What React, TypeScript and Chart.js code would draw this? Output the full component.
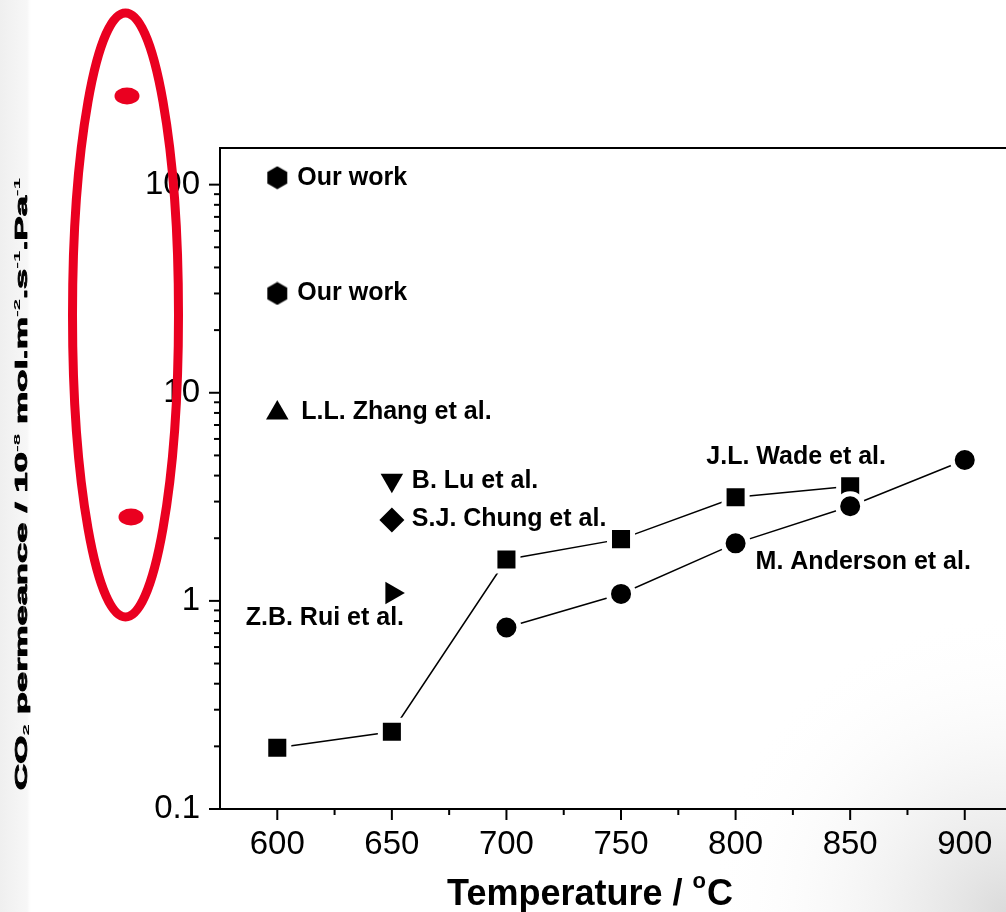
import React, { useEffect, useRef } from "react";
import { Chart, registerables } from "chart.js";

Chart.register(...registerables);

// ---- Data ----
const wadeX = [600, 650, 700, 750, 800, 850];
const wadeY = [0.197, 0.235, 1.58, 1.98, 3.15, 3.55];
const andersonX = [700, 750, 800, 850, 900];
const andersonY = [0.745, 1.08, 1.89, 2.85, 4.75];
const ourWorkX = [600, 600];
const ourWorkY = [108, 30];
const zhangX = [600];
const zhangY = [8.0];
const luX = [650];
const luY = [3.8];
const chungX = [650];
const chungY = [2.45];
const ruiX = [650];
const ruiY = [1.09];

const xMajorTicks = [600, 650, 700, 750, 800, 850, 900];
const xMinorTicks = [625, 675, 725, 775, 825, 875];
const yMajorTicks = [0.1, 1, 10, 100];
const yMinorTicks = [
  0.2, 0.3, 0.4, 0.5, 0.6, 0.7, 0.8, 0.9,
  2, 3, 4, 5, 6, 7, 8, 9,
  20, 30, 40, 50, 60, 70, 80, 90,
];

const pointLabels = [
  { text: "Our work", x: 600, y: 108, dx: 20, dy: 0, align: "left" },
  { text: "Our work", x: 600, y: 30, dx: 20, dy: 0, align: "left" },
  { text: "L.L. Zhang et al.", x: 600, y: 8.0, dx: 24, dy: -1, align: "left" },
  { text: "B. Lu et al.", x: 650, y: 3.8, dx: 20, dy: 1, align: "left" },
  { text: "S.J. Chung et al.", x: 650, y: 2.45, dx: 20, dy: -1, align: "left" },
  { text: "Z.B. Rui et al.", x: 650, y: 1.09, dx: -67, dy: 25, align: "center" },
  { text: "J.L. Wade et al.", x: 850, y: 3.55, dx: -54, dy: -29, align: "center" },
  { text: "M. Anderson et al.", x: 800, y: 1.89, dx: 20, dy: 19, align: "left" },
];

const FONT = '"Liberation Sans", Arial, sans-serif';
const RED = "#ea0020";

const toXY = (xs: number[], ys: number[]) => xs.map((x, i) => ({ x, y: ys[i] }));

function makeHexagon(): HTMLCanvasElement {
  const c = document.createElement("canvas");
  c.width = 22;
  c.height = 24;
  const g = c.getContext("2d")!;
  const cx = 11, cy = 12, r = 11.5;
  g.fillStyle = "#000";
  g.beginPath();
  for (let i = 0; i < 6; i++) {
    const a = -Math.PI / 2 + (i * Math.PI) / 3;
    const px = cx + r * Math.cos(a);
    const py = cy + r * Math.sin(a);
    if (i === 0) g.moveTo(px, py);
    else g.lineTo(px, py);
  }
  g.closePath();
  g.fill();
  return c;
}

const decorPlugin = {
  id: "decor",
  beforeDraw(chart: any) {
    const { ctx, width, height } = chart;
    ctx.save();
    ctx.fillStyle = "#ffffff";
    ctx.fillRect(0, 0, width, height);
    const lg = ctx.createLinearGradient(0, 0, 32, 0);
    lg.addColorStop(0, "#efefef");
    lg.addColorStop(0.85, "#f7f7f7");
    lg.addColorStop(1, "rgba(255,255,255,0)");
    ctx.fillStyle = lg;
    ctx.fillRect(0, 0, 32, height);
    const rg = ctx.createRadialGradient(width, height, 0, width, height, 300);
    rg.addColorStop(0, "rgba(215,215,215,0.9)");
    rg.addColorStop(1, "rgba(255,255,255,0)");
    ctx.fillStyle = rg;
    ctx.fillRect(width - 300, height - 300, 300, 300);
    ctx.restore();
  },
  afterDatasetsDraw(chart: any) {
    const { ctx, scales } = chart;
    const xs = scales.x, ys = scales.y;
    ctx.save();
    ctx.fillStyle = "#000";
    ctx.font = `bold 25px ${FONT}`;
    ctx.textBaseline = "middle";
    pointLabels.forEach((l) => {
      ctx.textAlign = l.align;
      ctx.fillText(l.text, xs.getPixelForValue(l.x) + l.dx, ys.getPixelForValue(l.y) + l.dy);
    });
    ctx.restore();
  },
  afterDraw(chart: any) {
    const { ctx, chartArea, scales } = chart;
    const { left, top, right, bottom } = chartArea;
    const xs = scales.x, ys = scales.y;
    ctx.save();
    ctx.strokeStyle = "#000";
    ctx.lineWidth = 2;
    ctx.lineCap = "butt";
    const line = (x1: number, y1: number, x2: number, y2: number) => {
      ctx.beginPath();
      ctx.moveTo(x1, y1);
      ctx.lineTo(x2, y2);
      ctx.stroke();
    };
    // frame
    line(left, top, right, top);
    line(left, top - 1, left, bottom + 1);
    line(left - 1, bottom, right, bottom);
    // ticks
    xMajorTicks.forEach((v) => { const p = xs.getPixelForValue(v); line(p, bottom, p, bottom + 11); });
    xMinorTicks.forEach((v) => { const p = xs.getPixelForValue(v); line(p, bottom, p, bottom + 6); });
    yMajorTicks.forEach((v) => { const p = ys.getPixelForValue(v); line(left - 11, p, left, p); });
    yMinorTicks.forEach((v) => { const p = ys.getPixelForValue(v); line(left - 6, p, left, p); });

    // x tick labels
    ctx.fillStyle = "#000";
    ctx.font = `33px ${FONT}`;
    ctx.textAlign = "center";
    ctx.textBaseline = "middle";
    xMajorTicks.forEach((v) => {
      ctx.fillText(String(v), xs.getPixelForValue(v), bottom + 36);
    });

    // x axis title
    ctx.textBaseline = "alphabetic";
    ctx.textAlign = "left";
    const big = `bold 36px ${FONT}`;
    const small = `bold 22px ${FONT}`;
    ctx.font = big;
    const t1 = "Temperature / ";
    const w1 = ctx.measureText(t1).width;
    const wC = ctx.measureText("C").width;
    ctx.font = small;
    const wo = ctx.measureText("o").width;
    const total = w1 + wo + 1 + wC;
    let xx = 590 - total / 2;
    const base = 905;
    ctx.font = big;
    ctx.fillText(t1, xx, base);
    xx += w1;
    ctx.font = small;
    ctx.fillText("o", xx, base - 17);
    xx += wo + 1;
    ctx.font = big;
    ctx.fillText("C", xx, base);

    // y axis title (stretched rich text)
    const segs: [string, number][] = [
      ["CO", 0], ["2", -1], [" permeance / 10", 0], ["-8", 1], [" mol.m", 0],
      ["-2", 1], [".s", 0], ["-1", 1], [".Pa", 0], ["-1", 1],
    ];
    const fMain = `bold 16px ${FONT}`;
    const fSmall = `bold 9px ${FONT}`;
    let natural = 0;
    segs.forEach(([s, k]) => {
      ctx.font = k === 0 ? fMain : fSmall;
      natural += ctx.measureText(s).width;
    });
    const targetLen = 612;
    const sx = targetLen / natural;
    ctx.save();
    ctx.translate(27, 790);
    ctx.rotate(-Math.PI / 2);
    ctx.scale(sx, 1);
    ctx.strokeStyle = "#000";
    ctx.lineWidth = 0.8;
    ctx.lineJoin = "round";
    let pos = 0;
    segs.forEach(([s, k]) => {
      ctx.font = k === 0 ? fMain : fSmall;
      const dy = k === 1 ? -7 : k === -1 ? 2 : 0;
      ctx.fillText(s, pos, dy);
      if (k === 0) ctx.strokeText(s, pos, dy);
      pos += ctx.measureText(s).width;
    });
    ctx.restore();

    // red annotation
    ctx.strokeStyle = RED;
    ctx.fillStyle = RED;
    ctx.lineWidth = 9;
    ctx.beginPath();
    ctx.ellipse(125.5, 315, 53, 302, 0, 0, Math.PI * 2);
    ctx.stroke();
    ctx.beginPath();
    ctx.ellipse(127, 96, 12.5, 8.5, 0, 0, Math.PI * 2);
    ctx.fill();
    ctx.beginPath();
    ctx.ellipse(131, 517, 12.5, 8.5, 0, 0, Math.PI * 2);
    ctx.fill();
    ctx.restore();
  },
};

export default function App() {
  const canvasRef = useRef<HTMLCanvasElement | null>(null);

  useEffect(() => {
    if (!canvasRef.current) return;
    const hex = makeHexagon();
    const single = (data: any, style: any, radius: number, rotation = 0) => ({
      data,
      showLine: false,
      pointStyle: style,
      pointRadius: radius,
      pointRotation: rotation,
      pointBackgroundColor: "#000",
      pointBorderColor: "#000",
      pointBorderWidth: 0,
    });
    const chart = new Chart(canvasRef.current, {
      type: "scatter",
      data: {
        datasets: [
          {
            label: "M. Anderson et al.",
            data: toXY(andersonX, andersonY),
            showLine: true,
            borderColor: "#000",
            borderWidth: 1.5,
            pointStyle: "circle",
            pointRadius: 12.5,
            pointBackgroundColor: "#000",
            pointBorderColor: "#fff",
            pointBorderWidth: 5,
          },
          {
            label: "J.L. Wade et al.",
            data: toXY(wadeX, wadeY),
            showLine: true,
            borderColor: "#000",
            borderWidth: 1.5,
            pointStyle: "rect",
            pointRadius: 16.3,
            pointBackgroundColor: "#000",
            pointBorderColor: "#fff",
            pointBorderWidth: 5,
          },
          { label: "Our work", ...single(toXY(ourWorkX, ourWorkY), hex, 11) },
          { label: "L.L. Zhang et al.", ...single(toXY(zhangX, zhangY), "triangle", 13) },
          { label: "B. Lu et al.", ...single(toXY(luX, luY), "triangle", 13, 180) },
          { label: "S.J. Chung et al.", ...single(toXY(chungX, chungY), "rectRot", 12.5) },
          { label: "Z.B. Rui et al.", ...single(toXY(ruiX, ruiY), "triangle", 13, 90) },
        ],
      },
      options: {
        responsive: false,
        animation: false,
        events: [],
        layout: { autoPadding: false, padding: { top: 148, left: 0, right: 0, bottom: 0 } },
        plugins: {
          legend: { display: false },
          tooltip: { enabled: false },
          title: { display: false },
        },
        scales: {
          x: {
            type: "linear",
            min: 575,
            max: 918,
            grid: { display: false, drawTicks: false },
            border: { display: false },
            afterFit: (s: any) => {
              s.height = 103;
            },
            ticks: { display: false, stepSize: 25 },
          },
          y: {
            type: "logarithmic",
            min: 0.1,
            max: 150,
            grid: { display: false, drawTicks: false },
            border: { display: false },
            afterFit: (s: any) => {
              s.width = 220;
              s.paddingTop = 0;
              s.paddingBottom = 0;
            },
            ticks: {
              autoSkip: false,
              padding: 20,
              color: "#000",
              font: { family: FONT, size: 33 },
              callback: (v: any) => {
                const n = Number(v);
                const l = Math.log10(n);
                if (Math.abs(l - Math.round(l)) > 1e-6) return "";
                return n < 1 ? n.toFixed(1) : String(Math.round(n));
              },
            },
          },
        },
      },
      plugins: [decorPlugin],
    });
    return () => chart.destroy();
  }, []);

  return (
    <div style={{ position: "fixed", left: 0, top: 0, width: 1006, height: 912 }}>
      <canvas ref={canvasRef} width={1006} height={912} style={{ display: "block" }} />
    </div>
  );
}
